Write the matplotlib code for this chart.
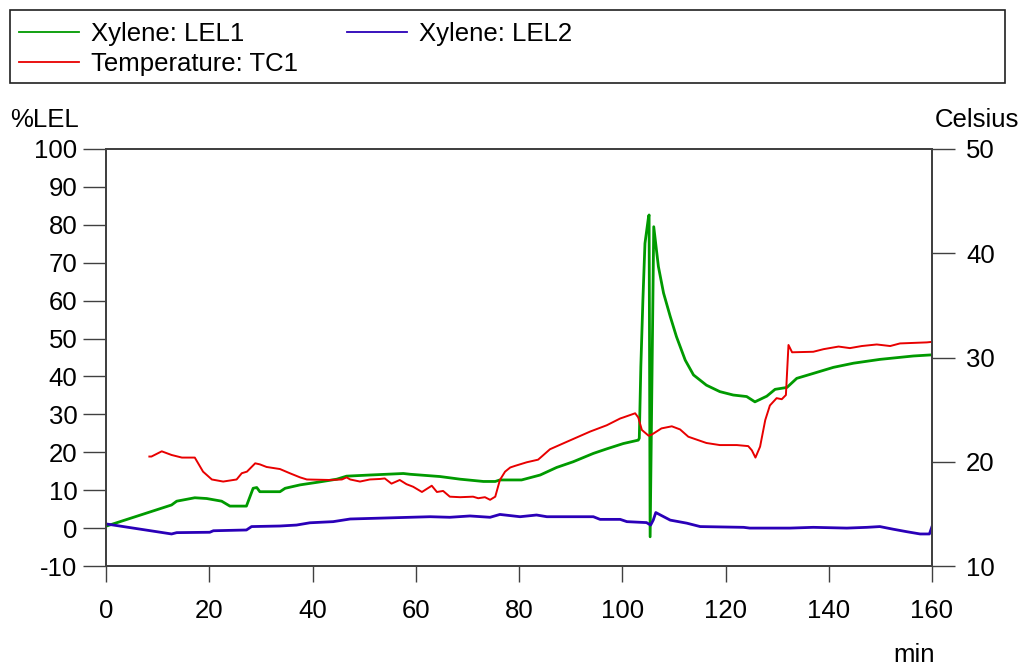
import matplotlib
matplotlib.use("Agg")
import matplotlib.pyplot as plt
from matplotlib.patches import Rectangle

plt.rcParams['font.family'] = ['Liberation Sans', 'DejaVu Sans']
plt.rcParams['axes.unicode_minus'] = False

# ---- data ----
t_lel1 = [0, 12.7, 13.7, 17.2, 19.5, 22.4, 24.0, 27.2, 28.5, 29.2, 29.8, 33.7, 34.7, 37.6,
          41.5, 44.7, 46.6, 51.1, 57.6, 58.9, 64.7, 68.6, 73.1, 75.4, 76.3, 80.5, 84.1,
          87.3, 90.5, 94.4, 97.0, 100.2, 103.1, 103.3, 103.6, 104.0, 104.4, 105.1, 105.2,
          105.4, 106.1, 107.0, 108.0, 109.3, 110.5, 112.2, 113.8, 116.3, 118.9, 121.5,
          124.1, 125.7, 128.0, 129.6, 131.9, 133.8, 137.0, 140.9, 144.8, 149.9, 156.4, 160]
lel1 = [0.5, 6.1, 7.1, 8.0, 7.8, 7.1, 5.8, 5.8, 10.5, 10.7, 9.6, 9.6, 10.5, 11.4,
        12.2, 12.9, 13.7, 14.0, 14.4, 14.2, 13.6, 12.9, 12.3, 12.3, 12.7, 12.7, 14.0,
        16.0, 17.5, 19.7, 20.9, 22.3, 23.2, 23.7, 42.6, 60.2, 75.1, 82.2, 82.6,
        -2.3, 79.5, 69.0, 62.0, 55.8, 50.5, 44.3, 40.4, 37.7, 36.0, 35.1,
        34.7, 33.3, 34.8, 36.6, 37.1, 39.5, 40.8, 42.4, 43.5, 44.5, 45.4, 45.7]

t_lel2 = [0, 12.7, 13.7, 20.1, 20.8, 27.2, 28.2, 33.7, 36.9, 39.5, 44.0, 47.3, 56.3,
          62.8, 66.6, 70.5, 74.4, 76.3, 80.2, 83.4, 85.4, 94.4, 95.7, 99.6, 100.9,
          104.7, 105.5, 106.0, 106.5, 107.4, 109.3, 112.5, 115.1, 123.5, 124.7, 132.5,
          137.0, 143.5, 147.4, 149.9, 152.5, 155.1, 157.7, 159.5, 160]
lel2 = [1.1, -1.55, -1.2, -1.1, -0.7, -0.5, 0.4, 0.55, 0.8, 1.4, 1.7, 2.4, 2.75,
        3.0, 2.85, 3.2, 2.85, 3.6, 3.0, 3.45, 3.0, 3.0, 2.3, 2.3, 1.7,
        1.45, 0.8, 2.1, 4.1, 3.45, 2.1, 1.3, 0.4, 0.2, 0.0, 0.0,
        0.2, 0.0, 0.2, 0.4, -0.3, -0.95, -1.55, -1.55, 0.4]

t_tc1 = [8.4, 8.8, 10.8, 12.7, 14.7, 17.2, 18.8, 20.5, 22.7, 25.3, 26.3, 27.3, 28.9,
         29.8, 31.1, 33.7, 35.6, 37.6, 38.9, 43.4, 45.7, 46.6, 47.3, 49.2, 51.1, 53.1,
         54.0, 55.3, 56.9, 58.2, 59.5, 61.2, 63.1, 64.1, 65.3, 66.6, 68.6, 71.1, 72.1,
         73.4, 74.4, 75.4, 76.3, 77.3, 78.3, 79.2, 81.5, 83.7, 84.4, 86.0, 89.2, 93.8,
         97.0, 99.6, 100.2, 102.5, 103.1, 103.8, 105.1, 105.7, 107.6, 109.6, 111.2,
         112.8, 116.3, 118.9, 122.2, 124.4, 125.1, 125.8, 126.7, 127.7, 128.6, 129.9,
         130.9, 131.7, 132.2, 132.9, 137.0, 139.0, 141.9, 144.1, 146.4, 149.3, 151.9,
         153.8, 159.0, 160]
tc1 = [20.5, 20.5, 21.0, 20.65, 20.4, 20.4, 19.05, 18.3, 18.1, 18.3, 18.9, 19.05, 19.85,
       19.75, 19.5, 19.3, 18.9, 18.5, 18.3, 18.25, 18.3, 18.5, 18.3, 18.1, 18.3, 18.35,
       18.4, 17.9, 18.25, 17.85, 17.6, 17.1, 17.7, 17.1, 17.2, 16.65, 16.6, 16.65, 16.5,
       16.6, 16.35, 16.65, 18.25, 19.05, 19.45, 19.6, 19.95, 20.2, 20.5, 21.2, 21.9, 22.9,
       23.5, 24.15, 24.25, 24.65, 24.25, 23.05, 22.5, 22.6, 23.2, 23.4, 23.1,
       22.4, 21.8, 21.6, 21.6, 21.5, 21.1, 20.4, 21.45, 24.0, 25.4, 26.1,
       26.0, 26.4, 31.2, 30.5, 30.55, 30.8, 31.05, 30.9, 31.1, 31.25, 31.1,
       31.35, 31.45, 31.5]

lel_ticks = list(range(-10, 101, 10))
c_ticks = [10, 20, 30, 40, 50]
x_ticks = list(range(0, 161, 20))

GREEN = '#009a00'
BLUE = '#2a00b8'
RED = '#e80000'
FS = 18.5
AXC = '#404040'

W, H = 1020, 666
fig = plt.figure(figsize=(W / 100, H / 100), dpi=100)
ax = fig.add_axes([106 / W, 1 - 566 / H, (932 - 106) / W, (566 - 149) / H])
ax2 = ax.twinx()

l1, = ax.plot(t_lel1, lel1, color=GREEN, lw=2.0, label='Xylene: LEL1')
l2, = ax.plot(t_lel2, lel2, color=BLUE, lw=2.0, label='Xylene: LEL2')
l3, = ax2.plot(t_tc1, tc1, color=RED, lw=1.4, label='Temperature: TC1')

ax.set_xlim(0, 160)
ax.set_ylim(-10, 100)
ax2.set_ylim(10, 50)
ax.set_xticks(x_ticks)
ax.set_yticks(lel_ticks)
ax2.set_yticks(c_ticks)

for a in (ax, ax2):
    for s in a.spines.values():
        s.set_color(AXC)
        s.set_linewidth(1.3)
ax.tick_params(axis='y', direction='out', length=16.5, width=1.0, color=AXC,
               labelsize=FS, pad=4)
ax.tick_params(axis='x', direction='out', length=11.5, width=1.0, color=AXC,
               labelsize=FS, pad=12)
ax2.tick_params(axis='y', direction='out', length=16.5, width=1.0, color=AXC,
                labelsize=FS, pad=8)

fig.text(10 / W, 1 - 120 / H, '%LEL', fontsize=FS, ha='left', va='center')
fig.text(935 / W, 1 - 120 / H, 'Celsius', fontsize=FS, ha='left', va='center')
fig.text(935 / W, 1 - 655 / H, 'min', fontsize=FS, ha='right', va='center')

# legend frame
fig.patches.append(Rectangle((10 / W, 1 - 83 / H), (1005 - 10) / W, (83 - 10) / H,
                             transform=fig.transFigure, fill=False,
                             edgecolor='#202020', lw=1.2))
leg = fig.legend(handles=[l1, l3, l2], ncol=2, loc='upper left',
                 bbox_to_anchor=(16 / W, 1 - 19 / H), frameon=False, fontsize=FS,
                 handlelength=2.35, handletextpad=0.45, columnspacing=1.92,
                 labelspacing=0.26, borderaxespad=0, borderpad=0.1)
for h in leg.legend_handles:
    h.set_linewidth(1.3)

fig.savefig('out.png', dpi=100)
